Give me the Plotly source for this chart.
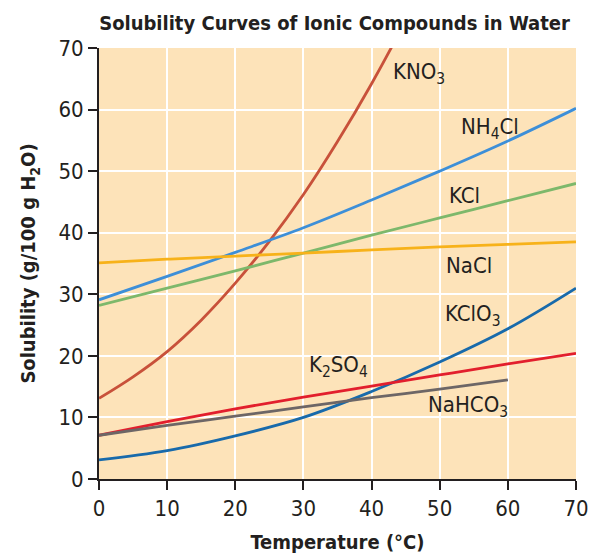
import plotly.graph_objects as go

temps = [0, 10, 20, 30, 40, 50, 60, 70]
kno3_t = [0, 5, 10, 15, 20, 25, 30, 35, 40, 45, 50]
kno3 = [13.1, 16.6, 20.7, 25.8, 31.8, 38.6, 46.2, 54.8, 64.2, 74.5, 85.8]
nh4cl = [29.1, 32.9, 36.8, 40.8, 45.3, 50.0, 54.9, 60.2]
kcl = [28.2, 31.0, 33.8, 36.7, 39.6, 42.4, 45.2, 48.0]
nacl = [35.1, 35.7, 36.2, 36.7, 37.2, 37.7, 38.1, 38.5]
kclo3 = [3.1, 4.6, 7.0, 10.0, 14.2, 19.0, 24.4, 31.0]
k2so4 = [7.1, 9.3, 11.4, 13.3, 15.1, 16.9, 18.7, 20.4]
nahco3_t = [0, 10, 20, 30, 40, 50, 60]
nahco3 = [7.1, 8.7, 10.2, 11.7, 13.2, 14.6, 16.1]

names = ["KNO<sub>3</sub>", "NH<sub>4</sub>Cl", "KCl", "NaCl",
         "KClO<sub>3</sub>", "K<sub>2</sub>SO<sub>4</sub>", "NaHCO<sub>3</sub>"]
xs_all = [kno3_t, temps, temps, temps, temps, temps, nahco3_t]
ys_all = [kno3, nh4cl, kcl, nacl, kclo3, k2so4, nahco3]
colors = ["#C8513A", "#3D8FD8", "#7DB86B", "#F7B21A", "#186AAB", "#E21F2D", "#6D6666"]
label_x = [46.9, 57.4, 53.7, 54.3, 54.9, 35.1, 54.2]
label_y = [65.9, 57.0, 46.1, 34.7, 26.6, 18.3, 11.7]

font = "DejaVu Sans Condensed, Liberation Sans, Arial, sans-serif"
fig = go.Figure()
for name, xs, ys, color, lx, ly in zip(names, xs_all, ys_all, colors, label_x, label_y):
    fig.add_trace(go.Scatter(x=xs, y=ys, mode="lines", name=name,
                             line=dict(color=color, width=2.8, shape="spline", smoothing=1.0),
                             showlegend=False, hoverinfo="skip"))
    fig.add_annotation(x=lx, y=ly, text=name, showarrow=False,
                       font=dict(family=font, size=22, color="#231F20"))

fig.update_layout(
    width=590, height=554,
    margin=dict(l=99, r=14, t=48, b=75),
    paper_bgcolor="white",
    plot_bgcolor="#FDE3B9",
    title=dict(text="<b>Solubility Curves of Ionic Compounds in Water</b>",
               x=0.567, xanchor="center", y=0.958, yanchor="middle",
               font=dict(family=font, size=20, color="#231F20")),
    font=dict(family=font, color="#231F20"),
)
common = dict(range=[0, 70], tickvals=[0, 10, 20, 30, 40, 50, 60, 70],
              showgrid=True, gridcolor="white", gridwidth=2,
              showline=True, linecolor="#231F20", linewidth=2,
              ticks="outside", ticklen=9, tickcolor="#231F20", tickwidth=1.5,
              tickfont=dict(size=22), zeroline=False, automargin=False)
fig.update_xaxes(**common,
                 title=dict(text="<b>Temperature (°C)</b>", font=dict(size=20), standoff=16))
fig.update_yaxes(**common,
                 title=dict(text="<b>Solubility (g/100 g H<sub>2</sub>O)</b>", font=dict(size=20), standoff=17))
fig.write_html("out.html", config={"displayModeBar": False},
               post_script="document.body.style.margin='0';document.body.style.overflow='hidden';")
